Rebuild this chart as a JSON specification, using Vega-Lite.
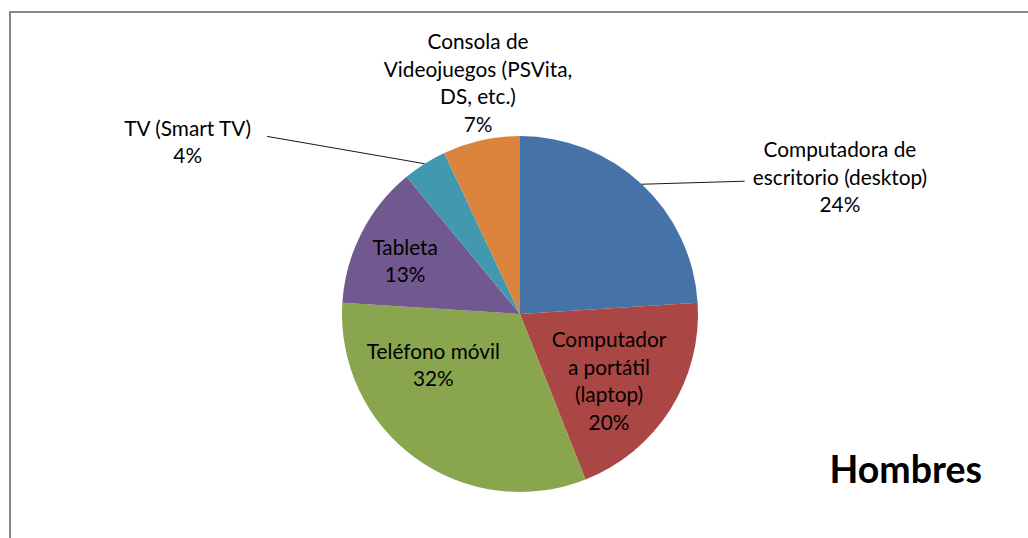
{
  "$schema": "https://vega.github.io/schema/vega-lite/v6.json",
  "width": 1020,
  "height": 604,
  "autosize": {"type": "none"},
  "padding": {"left": 10, "top": 12, "right": 0, "bottom": 0},
  "background": "white",
  "view": {"stroke": "#878787", "strokeWidth": 2},
  "config": {"font": "Lato", "text": {"font": "Lato", "fontSize": 20.8, "lineHeight": 27.5, "lineBreak": "\n", "color": "#000000"}},
  "title": {"text": "Hombres", "orient": "top", "anchor": "end", "frame": "group", "offset": 0, "dy": 574, "dx": -48, "baseline": "middle", "font": "Lato", "fontSize": 37.5, "fontWeight": "bold", "color": "#000000"},
  "data": {"values": [
    {"cat": "Computadora de escritorio (desktop)", "value": 24, "order": 1, "label": "Computadora de\nescritorio (desktop)\n24%"},
    {"cat": "Computadora portátil (laptop)", "value": 20, "order": 2, "label": "Computador\na portátil\n(laptop)\n20%"},
    {"cat": "Teléfono móvil", "value": 32, "order": 3, "label": "Teléfono móvil\n32%"},
    {"cat": "Tableta", "value": 13, "order": 4, "label": "Tableta\n13%"},
    {"cat": "TV (Smart TV)", "value": 4, "order": 5, "label": "TV (Smart TV)\n4%"},
    {"cat": "Consola de Videojuegos (PSVita, DS, etc.)", "value": 7, "order": 6, "label": "Consola de\nVideojuegos (PSVita,\nDS, etc.)\n7%"}
  ]},
  "layer": [
    {
      "mark": {"type": "arc", "outerRadius": 178},
      "encoding": {
        "theta": {"field": "value", "type": "quantitative", "stack": true, "scale": {"domain": [0, 100]}},
        "order": {"field": "order", "type": "quantitative"},
        "color": {"field": "cat", "type": "nominal", "legend": null, "scale": {
          "domain": ["Computadora de escritorio (desktop)", "Computadora portátil (laptop)", "Teléfono móvil", "Tableta", "TV (Smart TV)", "Consola de Videojuegos (PSVita, DS, etc.)"],
          "range": ["#4572A7", "#AA4643", "#89A54E", "#71588F", "#4198AF", "#DB843D"]}}
      }
    },
    {
      "transform": [
        {"stack": "value", "groupby": [], "sort": [{"field": "order"}], "as": ["s0", "s1"]},
        {"filter": "datum.order === 1 || datum.order === 5"}
      ],
      "mark": {"type": "rule", "color": "#1a1a1a", "strokeWidth": 1},
      "encoding": {
        "x": {"value": {"expr": "width/2 + 178*sin(PI*(datum.s0+datum.s1)/100)"}},
        "y": {"value": {"expr": "height/2 - 178*cos(PI*(datum.s0+datum.s1)/100)"}},
        "x2": {"value": {"expr": "width/2 + (datum.order === 1 ? 261*sin(PI*(datum.s0+datum.s1)/100 + 0.283) : 309*sin(PI*(datum.s0+datum.s1)/100 - 0.393))"}},
        "y2": {"value": {"expr": "height/2 - (datum.order === 1 ? 261*cos(PI*(datum.s0+datum.s1)/100 + 0.283) : 309*cos(PI*(datum.s0+datum.s1)/100 - 0.393))"}}
      }
    },
    {
      "mark": {"type": "text", "radius": 359, "thetaOffset": 0.346, "align": "center", "baseline": "middle"},
      "encoding": {
        "theta": {"field": "value", "type": "quantitative", "stack": true},
        "order": {"field": "order", "type": "quantitative"},
        "detail": {"field": "cat", "type": "nominal"},
        "text": {"condition": {"test": "datum.order === 1", "field": "label"}, "value": ""}
      }
    },
    {
      "mark": {"type": "text", "radius": 93, "thetaOffset": -0.27, "align": "center", "baseline": "middle"},
      "encoding": {
        "theta": {"field": "value", "type": "quantitative", "stack": true},
        "order": {"field": "order", "type": "quantitative"},
        "detail": {"field": "cat", "type": "nominal"},
        "text": {"condition": {"test": "datum.order === 2", "field": "label"}, "value": ""}
      }
    },
    {
      "mark": {"type": "text", "radius": 95, "thetaOffset": 0.52, "align": "center", "baseline": "middle"},
      "encoding": {
        "theta": {"field": "value", "type": "quantitative", "stack": true},
        "order": {"field": "order", "type": "quantitative"},
        "detail": {"field": "cat", "type": "nominal"},
        "text": {"condition": {"test": "datum.order === 3", "field": "label"}, "value": ""}
      }
    },
    {
      "mark": {"type": "text", "radius": 132, "thetaOffset": 0.044, "align": "center", "baseline": "middle"},
      "encoding": {
        "theta": {"field": "value", "type": "quantitative", "stack": true},
        "order": {"field": "order", "type": "quantitative"},
        "detail": {"field": "cat", "type": "nominal"},
        "text": {"condition": {"test": "datum.order === 4", "field": "label"}, "value": ""}
      }
    },
    {
      "mark": {"type": "text", "radius": 380, "thetaOffset": -0.499, "align": "center", "baseline": "middle"},
      "encoding": {
        "theta": {"field": "value", "type": "quantitative", "stack": true},
        "order": {"field": "order", "type": "quantitative"},
        "detail": {"field": "cat", "type": "nominal"},
        "text": {"condition": {"test": "datum.order === 5", "field": "label"}, "value": ""}
      }
    },
    {
      "mark": {"type": "text", "radius": 274, "thetaOffset": 0.066, "align": "center", "baseline": "middle"},
      "encoding": {
        "theta": {"field": "value", "type": "quantitative", "stack": true},
        "order": {"field": "order", "type": "quantitative"},
        "detail": {"field": "cat", "type": "nominal"},
        "text": {"condition": {"test": "datum.order === 6", "field": "label"}, "value": ""}
      }
    }
  ]
}
